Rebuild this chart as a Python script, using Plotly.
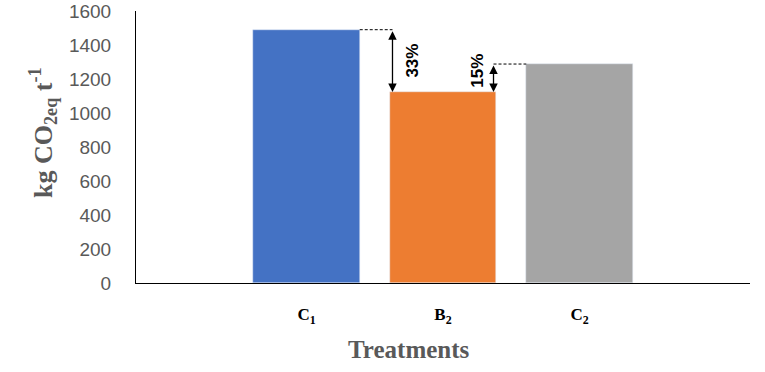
import plotly.graph_objects as go

categories = ["C<sub>1</sub>", "B<sub>2</sub>", "C<sub>2</sub>"]
values = [1490, 1124, 1288]
colors = ["#4472C4", "#ED7D31", "#A5A5A5"]
y_ticks = [0, 200, 400, 600, 800, 1000, 1200, 1400, 1600]
pct_labels = ["33%", "15%"]

xpos = list(range(len(categories)))
bw = 0.78

fig = go.Figure()
fig.add_trace(go.Bar(x=xpos, y=values, marker_color=colors, width=bw, showlegend=False,
                     hoverinfo="skip"))

# reduction annotations
x33 = xpos[1] - bw / 2 + 0.02
x15 = xpos[1] + bw / 2 - 0.02
arrow_specs = [
    (x33, values[0], values[1], xpos[0] + bw / 2, x33, pct_labels[0], x33 + 0.145, 1310),
    (x15, values[2], values[1], x15, xpos[2] - bw / 2, pct_labels[1], x15 - 0.12, 1250),
]
for xa, ytop, ybot, dx0, dx1, lab, tx, ty in arrow_specs:
    fig.add_shape(type="line", xref="x", yref="y", x0=dx0, x1=dx1, y0=ytop, y1=ytop,
                  line=dict(color="black", width=1, dash="3px,2px"))
    fig.add_annotation(x=xa, y=ybot, ax=xa, ay=ytop, xref="x", yref="y", axref="x", ayref="y",
                       text="", showarrow=True, arrowhead=2, startarrowhead=2,
                       arrowside="end+start", arrowsize=1.3, arrowwidth=1.3, arrowcolor="black")
    fig.add_annotation(x=tx, y=ty, xref="x", yref="y", text="<b>" + lab + "</b>",
                       showarrow=False, textangle=-90,
                       font=dict(family="Liberation Sans", size=17, color="black"))

# axis titles
fig.add_annotation(x=409, y=349, xref="x domain", yref="paper", text="<b>Treatments</b>",
                   showarrow=False, font=dict(family="Liberation Serif", size=25, color="#595959"))
fig.add_annotation(text="<b>kg CO<sub>2eq</sub> t<sup>-1</sup></b>", showarrow=False, textangle=-90,
                   font=dict(family="Liberation Serif", size=26, color="#595959"))
fig.layout.annotations[-2].update(xref="paper", yref="paper",
                                  x=(409 - 136) / 614, y=(372 - 89 - 349) / 272,
                                  xanchor="center", yanchor="middle")
fig.layout.annotations[-1].update(xref="paper", yref="paper",
                                  x=(43 - 136) / 614, y=(283 - 132) / 272,
                                  xanchor="center", yanchor="middle")

fig.update_layout(
    width=765, height=372,
    margin=dict(l=136, r=15, t=11, b=89, autoexpand=False),
    paper_bgcolor="white", plot_bgcolor="white",
    bargap=0,
    xaxis=dict(range=[-1.249, 3.249], tickvals=xpos, automargin=False,
               ticktext=["<b>" + c + "</b>" for c in categories],
               tickfont=dict(family="Liberation Serif", size=17, color="black"),
               ticklabelstandoff=16,
               showline=True, linecolor="black", linewidth=1, showgrid=False, zeroline=False,
               ticks="", fixedrange=True),
    yaxis=dict(range=[0, 1600], tickvals=y_ticks, automargin=False,
               tickfont=dict(family="Liberation Sans", size=19, color="#595959"),
               ticklabelstandoff=20,
               showline=True, linecolor="black", linewidth=1, showgrid=False, zeroline=False,
               ticks="", fixedrange=True),
)

fig.write_html("out.html", config={"displayModeBar": False},
               post_script="document.body.style.margin='0';")
